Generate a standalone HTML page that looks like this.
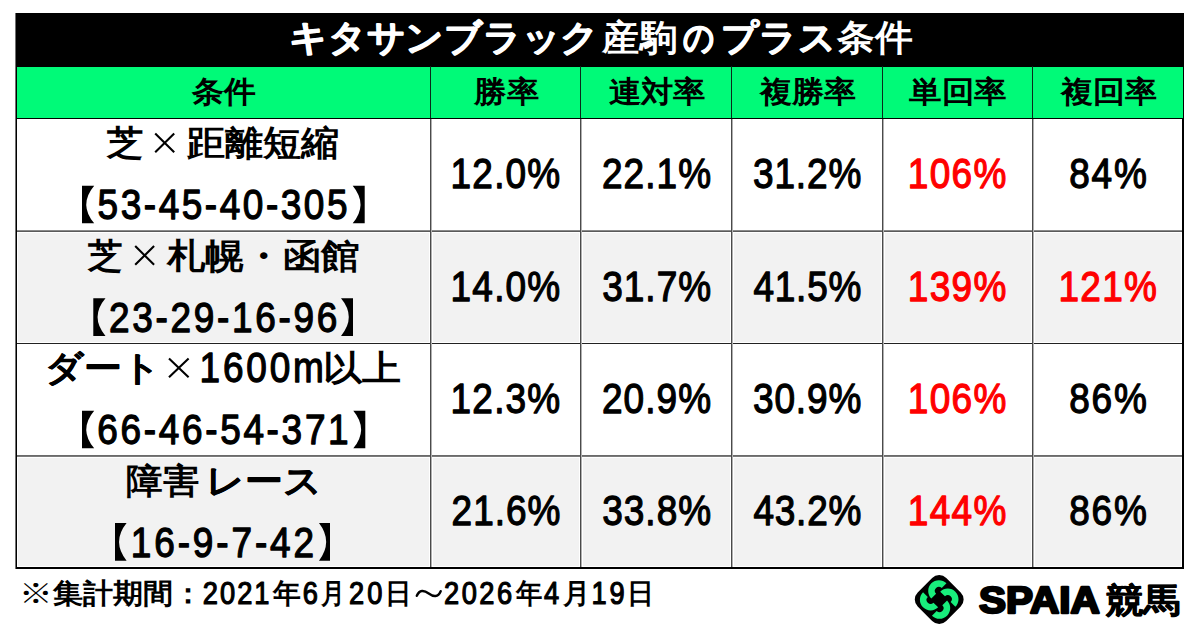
<!DOCTYPE html>
<html lang="ja">
<head>
<meta charset="utf-8">
<title>キタサンブラック産駒のプラス条件</title>
<style>
html,body{margin:0;padding:0;background:#fff;}
body{width:1200px;height:639px;position:relative;overflow:hidden;font-family:"Liberation Sans",sans-serif;}
.a{position:absolute;}
.g{position:absolute;background:#f2f2f2;}
svg{position:absolute;left:0;top:0;}
svg text{font-family:"Liberation Sans",sans-serif;white-space:pre;}
</style>
</head>
<body>

<div class="a" style="left:16px;top:13px;width:1168px;height:54px;background:#000;"></div>
<div class="a" style="left:17px;top:67px;width:1166px;height:51px;background:#00fa78;"></div>
<div class="g" style="left:18px;top:233px;width:411px;height:109px;"></div>
<div class="g" style="left:433px;top:233px;width:146px;height:109px;"></div>
<div class="g" style="left:583px;top:233px;width:147px;height:109px;"></div>
<div class="g" style="left:734px;top:233px;width:147px;height:109px;"></div>
<div class="g" style="left:885px;top:233px;width:146px;height:109px;"></div>
<div class="g" style="left:1035px;top:233px;width:146px;height:109px;"></div>
<div class="g" style="left:18px;top:458px;width:411px;height:108px;"></div>
<div class="g" style="left:433px;top:458px;width:146px;height:108px;"></div>
<div class="g" style="left:583px;top:458px;width:147px;height:108px;"></div>
<div class="g" style="left:734px;top:458px;width:147px;height:108px;"></div>
<div class="g" style="left:885px;top:458px;width:146px;height:108px;"></div>
<div class="g" style="left:1035px;top:458px;width:146px;height:108px;"></div>
<div class="a" style="left:15px;top:118px;width:1169px;height:1px;background:#000;"></div>
<div class="a" style="left:15px;top:230px;width:1169px;height:1px;background:#8a8a8a;"></div>
<div class="a" style="left:15px;top:231px;width:1169px;height:1px;background:#5a5a5a;"></div>
<div class="a" style="left:15px;top:343px;width:1169px;height:1px;background:#222;"></div>
<div class="a" style="left:15px;top:455px;width:1169px;height:1px;background:#6a6a6a;"></div>
<div class="a" style="left:15px;top:456px;width:1169px;height:1px;background:#7a7a7a;"></div>
<div class="a" style="left:15px;top:567px;width:1169px;height:2px;background:#000;"></div>
<div class="a" style="left:15px;top:13px;width:1px;height:556px;background:#707070;"></div>
<div class="a" style="left:16px;top:66px;width:1px;height:503px;background:#000;"></div>
<div class="a" style="left:1183px;top:66px;width:1px;height:53px;background:#000;"></div>
<div class="a" style="left:1182px;top:118px;width:2px;height:451px;background:#000;"></div>
<div class="a" style="left:430px;top:66px;width:1px;height:52px;background:#0a2a1a;"></div>
<div class="a" style="left:430px;top:119px;width:1px;height:448px;background:#4a4a4a;"></div>
<div class="a" style="left:431px;top:119px;width:1px;height:448px;background:#b0b0b0;"></div>
<div class="a" style="left:580px;top:66px;width:1px;height:52px;background:#0a2a1a;"></div>
<div class="a" style="left:580px;top:119px;width:1px;height:448px;background:#4a4a4a;"></div>
<div class="a" style="left:581px;top:119px;width:1px;height:448px;background:#b0b0b0;"></div>
<div class="a" style="left:731px;top:66px;width:1px;height:52px;background:#0a2a1a;"></div>
<div class="a" style="left:731px;top:119px;width:1px;height:448px;background:#4a4a4a;"></div>
<div class="a" style="left:732px;top:119px;width:1px;height:448px;background:#b0b0b0;"></div>
<div class="a" style="left:882px;top:66px;width:1px;height:52px;background:#0a2a1a;"></div>
<div class="a" style="left:882px;top:119px;width:1px;height:448px;background:#4a4a4a;"></div>
<div class="a" style="left:883px;top:119px;width:1px;height:448px;background:#b0b0b0;"></div>
<div class="a" style="left:1032px;top:66px;width:1px;height:52px;background:#0a2a1a;"></div>
<div class="a" style="left:1032px;top:119px;width:1px;height:448px;background:#4a4a4a;"></div>
<div class="a" style="left:1033px;top:119px;width:1px;height:448px;background:#b0b0b0;"></div>
<svg width="1200" height="639" viewBox="0 0 1200 639">
<text x="289.13" y="50.46" font-size="35.98" font-weight="bold" textLength="310.10" lengthAdjust="spacingAndGlyphs" fill="#fff" stroke="#fff" stroke-width="1.0" stroke-linejoin="round">キタサンブラック</text>
<text x="602.36" y="50.46" font-size="35.98" font-weight="bold" textLength="74.30" lengthAdjust="spacingAndGlyphs" fill="#fff">産駒</text>
<text x="683.05" y="50.46" font-size="35.98" font-weight="bold" textLength="31.69" lengthAdjust="spacingAndGlyphs" fill="#fff" stroke="#fff" stroke-width="1.0" stroke-linejoin="round">の</text>
<text x="721.35" y="50.46" font-size="35.98" font-weight="bold" textLength="114.40" lengthAdjust="spacingAndGlyphs" fill="#fff" stroke="#fff" stroke-width="1.0" stroke-linejoin="round">プラス</text>
<text x="836.85" y="50.46" font-size="35.98" font-weight="bold" textLength="75.55" lengthAdjust="spacingAndGlyphs" fill="#fff">条件</text>
<text x="191.96" y="101.94" font-size="30.49" font-weight="bold" textLength="63.49" lengthAdjust="spacingAndGlyphs" fill="#000">条件</text>
<text x="474.36" y="101.94" font-size="30.49" font-weight="bold" textLength="64.52" lengthAdjust="spacingAndGlyphs" fill="#000">勝率</text>
<text x="608.53" y="101.94" font-size="30.49" font-weight="bold" textLength="97.04" lengthAdjust="spacingAndGlyphs" fill="#000">連対率</text>
<text x="759.64" y="101.94" font-size="30.49" font-weight="bold" textLength="96.07" lengthAdjust="spacingAndGlyphs" fill="#000">複勝率</text>
<text x="909.26" y="101.94" font-size="30.49" font-weight="bold" textLength="97.65" lengthAdjust="spacingAndGlyphs" fill="#000">単回率</text>
<text x="1060.64" y="101.94" font-size="30.49" font-weight="bold" textLength="96.07" lengthAdjust="spacingAndGlyphs" fill="#000">複回率</text>
<text x="107.41" y="155.16" font-size="34.64" font-weight="bold" textLength="36.30" lengthAdjust="spacingAndGlyphs" fill="#000">芝</text>
<path d="M155.20,133.38 L174.20,152.17 M174.20,133.38 L155.20,152.17" stroke="#000" stroke-width="2.1" fill="none"/>
<text x="186.73" y="155.16" font-size="34.64" font-weight="bold" textLength="151.91" lengthAdjust="spacingAndGlyphs" fill="#000">距離短縮</text>
<text x="88.34" y="267.81" font-size="34.64" font-weight="bold" textLength="34.50" lengthAdjust="spacingAndGlyphs" fill="#000">芝</text>
<path d="M135.20,246.02 L154.10,264.82 M154.10,246.02 L135.20,264.82" stroke="#000" stroke-width="2.1" fill="none"/>
<text x="166.87" y="267.81" font-size="34.64" font-weight="bold" textLength="192.74" lengthAdjust="spacingAndGlyphs" fill="#000">札幌・函館</text>
<text x="45.11" y="380.23" font-size="34.64" font-weight="bold" textLength="115.82" lengthAdjust="spacingAndGlyphs" fill="#000" stroke="#000" stroke-width="0.4" stroke-linejoin="round">ダート</text>
<path d="M169.00,358.45 L188.60,377.25 M188.60,358.45 L169.00,377.25" stroke="#000" stroke-width="2.1" fill="none"/>
<text transform="scale(0.86,1)" x="232.01" y="382.25" font-size="43.00" font-weight="normal" textLength="144.55" lengthAdjust="spacing" fill="#000" stroke="#000" stroke-width="1.3" stroke-linejoin="round">1600m</text>
<text x="323.35" y="380.23" font-size="34.64" font-weight="bold" textLength="77.91" lengthAdjust="spacingAndGlyphs" fill="#000">以上</text>
<text x="126.47" y="492.58" font-size="34.64" font-weight="bold" textLength="73.10" lengthAdjust="spacingAndGlyphs" fill="#000">障害</text>
<text x="205.82" y="492.58" font-size="34.64" font-weight="bold" textLength="115.65" lengthAdjust="spacingAndGlyphs" fill="#000" stroke="#000" stroke-width="0.4" stroke-linejoin="round">レース</text>
<path d="M82.00,185.68 H94.20 Q78.34,204.48 94.20,223.28 H82.00 Z" fill="#000"/>
<text transform="scale(0.86,1)" x="113.51" y="219.38" font-size="43.00" font-weight="normal" textLength="290.61" lengthAdjust="spacing" fill="#000" stroke="#000" stroke-width="1.3" stroke-linejoin="round">53-45-40-305</text>
<path d="M364.70,185.68 H352.70 Q368.30,204.48 352.70,223.28 H364.70 Z" fill="#000"/>
<path d="M93.30,298.32 H105.50 Q89.64,317.12 105.50,335.92 H93.30 Z" fill="#000"/>
<text transform="scale(0.86,1)" x="126.76" y="332.03" font-size="43.00" font-weight="normal" textLength="265.35" lengthAdjust="spacing" fill="#000" stroke="#000" stroke-width="1.3" stroke-linejoin="round">23-29-16-96</text>
<path d="M353.00,298.32 H341.00 Q356.60,317.12 341.00,335.92 H353.00 Z" fill="#000"/>
<path d="M82.00,410.75 H94.20 Q78.34,429.55 94.20,448.35 H82.00 Z" fill="#000"/>
<text transform="scale(0.86,1)" x="112.97" y="444.45" font-size="43.00" font-weight="normal" textLength="292.50" lengthAdjust="spacing" fill="#000" stroke="#000" stroke-width="1.3" stroke-linejoin="round">66-46-54-371</text>
<path d="M365.30,410.75 H353.30 Q368.90,429.55 353.30,448.35 H365.30 Z" fill="#000"/>
<path d="M115.00,523.10 H126.60 Q111.52,541.90 126.60,560.70 H115.00 Z" fill="#000"/>
<text transform="scale(0.86,1)" x="152.11" y="556.80" font-size="43.00" font-weight="normal" textLength="213.15" lengthAdjust="spacing" fill="#000" stroke="#000" stroke-width="1.3" stroke-linejoin="round">16-9-7-42</text>
<path d="M330.00,523.10 H319.00 Q333.30,541.90 319.00,560.70 H330.00 Z" fill="#000"/>
<text transform="scale(0.86,1)" x="523.93" y="187.88" font-size="43.00" font-weight="normal" textLength="127.53" lengthAdjust="spacing" fill="#000" stroke="#000" stroke-width="1.3" stroke-linejoin="round">12.0%</text>
<text transform="scale(0.86,1)" x="699.99" y="187.88" font-size="43.00" font-weight="normal" textLength="126.89" lengthAdjust="spacing" fill="#000" stroke="#000" stroke-width="1.3" stroke-linejoin="round">22.1%</text>
<text transform="scale(0.86,1)" x="875.51" y="187.88" font-size="43.00" font-weight="normal" textLength="126.06" lengthAdjust="spacing" fill="#000" stroke="#000" stroke-width="1.3" stroke-linejoin="round">31.2%</text>
<text transform="scale(0.86,1)" x="1055.42" y="187.88" font-size="43.00" font-weight="normal" textLength="114.92" lengthAdjust="spacing" fill="#f00" stroke="#f00" stroke-width="1.3" stroke-linejoin="round">106%</text>
<text transform="scale(0.86,1)" x="1243.37" y="187.88" font-size="43.00" font-weight="normal" textLength="90.09" lengthAdjust="spacing" fill="#000" stroke="#000" stroke-width="1.3" stroke-linejoin="round">84%</text>
<text transform="scale(0.86,1)" x="523.93" y="300.53" font-size="43.00" font-weight="normal" textLength="127.53" lengthAdjust="spacing" fill="#000" stroke="#000" stroke-width="1.3" stroke-linejoin="round">14.0%</text>
<text transform="scale(0.86,1)" x="700.24" y="300.53" font-size="43.00" font-weight="normal" textLength="126.63" lengthAdjust="spacing" fill="#000" stroke="#000" stroke-width="1.3" stroke-linejoin="round">31.7%</text>
<text transform="scale(0.86,1)" x="876.15" y="300.53" font-size="43.00" font-weight="normal" textLength="125.40" lengthAdjust="spacing" fill="#000" stroke="#000" stroke-width="1.3" stroke-linejoin="round">41.5%</text>
<text transform="scale(0.86,1)" x="1055.42" y="300.53" font-size="43.00" font-weight="normal" textLength="114.92" lengthAdjust="spacing" fill="#f00" stroke="#f00" stroke-width="1.3" stroke-linejoin="round">139%</text>
<text transform="scale(0.86,1)" x="1230.68" y="300.53" font-size="43.00" font-weight="normal" textLength="114.57" lengthAdjust="spacing" fill="#f00" stroke="#f00" stroke-width="1.3" stroke-linejoin="round">121%</text>
<text transform="scale(0.86,1)" x="523.93" y="412.95" font-size="43.00" font-weight="normal" textLength="127.53" lengthAdjust="spacing" fill="#000" stroke="#000" stroke-width="1.3" stroke-linejoin="round">12.3%</text>
<text transform="scale(0.86,1)" x="699.99" y="412.95" font-size="43.00" font-weight="normal" textLength="126.89" lengthAdjust="spacing" fill="#000" stroke="#000" stroke-width="1.3" stroke-linejoin="round">20.9%</text>
<text transform="scale(0.86,1)" x="875.51" y="412.95" font-size="43.00" font-weight="normal" textLength="126.06" lengthAdjust="spacing" fill="#000" stroke="#000" stroke-width="1.3" stroke-linejoin="round">30.9%</text>
<text transform="scale(0.86,1)" x="1055.42" y="412.95" font-size="43.00" font-weight="normal" textLength="114.92" lengthAdjust="spacing" fill="#f00" stroke="#f00" stroke-width="1.3" stroke-linejoin="round">106%</text>
<text transform="scale(0.86,1)" x="1243.37" y="412.95" font-size="43.00" font-weight="normal" textLength="90.09" lengthAdjust="spacing" fill="#000" stroke="#000" stroke-width="1.3" stroke-linejoin="round">86%</text>
<text transform="scale(0.86,1)" x="525.15" y="525.30" font-size="43.00" font-weight="normal" textLength="126.43" lengthAdjust="spacing" fill="#000" stroke="#000" stroke-width="1.3" stroke-linejoin="round">21.6%</text>
<text transform="scale(0.86,1)" x="700.24" y="525.30" font-size="43.00" font-weight="normal" textLength="126.63" lengthAdjust="spacing" fill="#000" stroke="#000" stroke-width="1.3" stroke-linejoin="round">33.8%</text>
<text transform="scale(0.86,1)" x="876.15" y="525.30" font-size="43.00" font-weight="normal" textLength="125.40" lengthAdjust="spacing" fill="#000" stroke="#000" stroke-width="1.3" stroke-linejoin="round">43.2%</text>
<text transform="scale(0.86,1)" x="1055.42" y="525.30" font-size="43.00" font-weight="normal" textLength="114.92" lengthAdjust="spacing" fill="#f00" stroke="#f00" stroke-width="1.3" stroke-linejoin="round">144%</text>
<text transform="scale(0.86,1)" x="1243.37" y="525.30" font-size="43.00" font-weight="normal" textLength="90.09" lengthAdjust="spacing" fill="#000" stroke="#000" stroke-width="1.3" stroke-linejoin="round">86%</text>
<text x="19.27" y="602.77" font-size="27.75" font-weight="normal" textLength="33.70" lengthAdjust="spacingAndGlyphs" fill="#000">※</text>
<text x="52.78" y="602.77" font-size="27.75" font-weight="bold" textLength="150.36" lengthAdjust="spacingAndGlyphs" fill="#000">集計期間：</text>
<text transform="scale(0.88,1)" x="230.47" y="604.20" font-size="30.95" font-weight="normal" textLength="75.76" lengthAdjust="spacing" fill="#000" stroke="#000" stroke-width="1.2" stroke-linejoin="round">2021</text>
<text x="272.82" y="602.77" font-size="27.75" font-weight="bold" textLength="27.81" lengthAdjust="spacingAndGlyphs" fill="#000">年</text>
<text transform="scale(0.88,1)" x="343.92" y="604.20" font-size="30.95" font-weight="normal" textLength="12.29" lengthAdjust="spacing" fill="#000" stroke="#000" stroke-width="1.2" stroke-linejoin="round">6</text>
<text x="321.20" y="602.77" font-size="27.75" font-weight="bold" textLength="23.74" lengthAdjust="spacingAndGlyphs" fill="#000">月</text>
<text transform="scale(0.88,1)" x="396.74" y="604.20" font-size="30.95" font-weight="normal" textLength="37.89" lengthAdjust="spacing" fill="#000" stroke="#000" stroke-width="1.2" stroke-linejoin="round">20</text>
<text x="385.37" y="602.77" font-size="27.75" font-weight="bold" textLength="26.43" lengthAdjust="spacingAndGlyphs" fill="#000">日</text>
<path d="M416.80,595.80 C419.50,589.50 424.00,590.00 428.75,593.50 S438.00,597.50 440.70,591.20" stroke="#000" stroke-width="2.4" fill="none" stroke-linecap="round"/>
<text transform="scale(0.88,1)" x="504.69" y="604.20" font-size="30.95" font-weight="normal" textLength="77.27" lengthAdjust="spacing" fill="#000" stroke="#000" stroke-width="1.2" stroke-linejoin="round">2026</text>
<text x="515.55" y="602.77" font-size="27.75" font-weight="bold" textLength="26.38" lengthAdjust="spacingAndGlyphs" fill="#000">年</text>
<text transform="scale(0.88,1)" x="618.13" y="604.20" font-size="30.95" font-weight="normal" textLength="14.09" lengthAdjust="spacing" fill="#000" stroke="#000" stroke-width="1.2" stroke-linejoin="round">4</text>
<text x="562.85" y="602.77" font-size="27.75" font-weight="bold" textLength="26.94" lengthAdjust="spacingAndGlyphs" fill="#000">月</text>
<text transform="scale(0.88,1)" x="672.04" y="604.20" font-size="30.95" font-weight="normal" textLength="37.83" lengthAdjust="spacing" fill="#000" stroke="#000" stroke-width="1.2" stroke-linejoin="round">19</text>
<text x="626.92" y="602.77" font-size="27.75" font-weight="bold" textLength="26.95" lengthAdjust="spacingAndGlyphs" fill="#000">日</text>
<text x="979.09" y="612.50" font-size="36.21" font-weight="bold" textLength="120.72" lengthAdjust="spacingAndGlyphs" fill="#000" stroke="#000" stroke-width="2.4" stroke-linejoin="round">SPAIA</text>
<text x="1106.15" y="611.99" font-size="33.85" font-weight="bold" textLength="74.54" lengthAdjust="spacingAndGlyphs" fill="#000" stroke="#000" stroke-width="0.8" stroke-linejoin="round">競馬</text>
<g transform="translate(939.2,599.5)">
<rect x="-20.2" y="-20.2" width="40.4" height="40.4" rx="10" ry="10" transform="rotate(45)" fill="#000"/>
<path d="M-7.87,-1.03 A10.7,10.7 0 0 1 7.27,-16.17 L2.53,-11.43 A4.0,4.0 0 0 0 -3.13,-5.77 Z" fill="#18ee7c" transform="rotate(0)"/>
<path d="M-7.87,-1.03 A10.7,10.7 0 0 1 7.27,-16.17 L2.53,-11.43 A4.0,4.0 0 0 0 -3.13,-5.77 Z" fill="#18ee7c" transform="rotate(90)"/>
<path d="M-7.87,-1.03 A10.7,10.7 0 0 1 7.27,-16.17 L2.53,-11.43 A4.0,4.0 0 0 0 -3.13,-5.77 Z" fill="#18ee7c" transform="rotate(180)"/>
<path d="M-7.87,-1.03 A10.7,10.7 0 0 1 7.27,-16.17 L2.53,-11.43 A4.0,4.0 0 0 0 -3.13,-5.77 Z" fill="#18ee7c" transform="rotate(270)"/>
</g>
</svg>
</body>
</html>
